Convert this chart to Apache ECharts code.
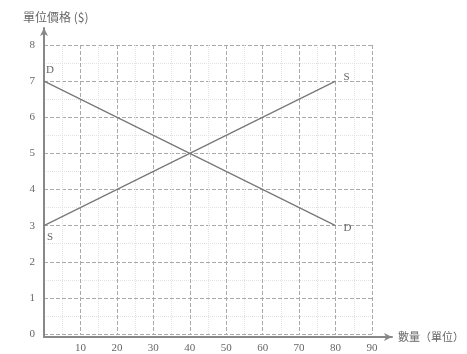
<!DOCTYPE html>
<html><head><meta charset="utf-8">
<script src="https://cdn.jsdelivr.net/npm/echarts@6/dist/echarts.min.js"></script>
<style>html,body{margin:0;padding:0;background:#fff}#c{width:467px;height:354px}</style>
</head><body><div id="c"></div>
<script>
const xTicks = [0,10,20,30,40,50,60,70,80,90];
const yTicks = [0,1,2,3,4,5,6,7,8];
const demandX = [0, 80];
const demandY = [7, 3];
const supplyX = [0, 80];
const supplyY = [3, 7];
const demandLabels = ['D', 'D'];
const supplyLabels = ['S', 'S'];
const yTitle = '單位價格 ($)';
const xTitle = '數量（單位）';

const serif = '"Liberation Serif","DejaVu Serif",serif';
const cjk = '"Noto Sans CJK TC","Noto Sans CJK SC",sans-serif';
const txt = '#666';

const chart = echarts.init(document.getElementById('c'));
chart.setOption({
  animation: false,
  backgroundColor: '#fff',
  title: {text: yTitle, left: 18, top: 6,
    textStyle: {fontFamily: cjk, fontSize: 12, fontWeight: 'normal', color: txt}},
  grid: [
    {left: 44, top: 45, right: 95, bottom: 17},
    {left: 44, top: 28, right: 74, bottom: 17}
  ],
  xAxis: [
    {gridIndex: 0, type: 'value', min: 0, max: 90, interval: 10,
     axisLine: {show: false}, axisTick: {show: false},
     axisLabel: {margin: 9, fontFamily: serif, fontSize: 11, color: txt,
       formatter: v => v === 0 ? '' : String(v)},
     splitLine: {show: true, lineStyle: {color: '#aaa', type: [4, 2], width: 1}},
     minorTick: {show: false, splitNumber: 2},
     minorSplitLine: {show: true, lineStyle: {color: '#e2e2e2', type: 'dotted'}}},
    {gridIndex: 1, type: 'value', min: 0, max: 96,
     axisLine: {show: true, symbol: ['none', 'arrow'], symbolSize: [6, 8],
       lineStyle: {color: '#888', width: 2}},
     axisTick: {show: false}, axisLabel: {show: false}, splitLine: {show: false},
     name: xTitle, nameLocation: 'end', nameGap: 6,
     nameTextStyle: {fontFamily: cjk, fontSize: 11, color: txt}}
  ],
  yAxis: [
    {gridIndex: 0, type: 'value', min: 0, max: 8, interval: 1,
     axisLine: {show: false}, axisTick: {show: false},
     axisLabel: {margin: 9, fontFamily: serif, fontSize: 11, color: txt},
     splitLine: {show: true, lineStyle: {color: '#aaa', type: [4, 2], width: 1}},
     minorTick: {show: false, splitNumber: 2},
     minorSplitLine: {show: true, lineStyle: {color: '#e2e2e2', type: 'dotted'}}},
    {gridIndex: 1, type: 'value', min: 0, max: 8.5,
     axisLine: {show: true, symbol: ['none', 'arrow'], symbolSize: [6, 8],
       lineStyle: {color: '#888', width: 2}},
     axisTick: {show: false}, axisLabel: {show: false}, splitLine: {show: false}}
  ],
  series: [
    {type: 'line', xAxisIndex: 0, yAxisIndex: 0,
     data: demandX.map((x, i) => ({value: [x, demandY[i]],
       label: {show: true, formatter: demandLabels[i],
         position: i === 0 ? 'top' : 'right',
         offset: i === 0 ? [6, 0] : [2, 2]}})),
     showSymbol: true, symbol: 'circle', symbolSize: 2,
     itemStyle: {color: 'rgba(0,0,0,0)'},
     lineStyle: {color: '#777', width: 1.2},
     label: {fontFamily: serif, fontSize: 11, color: txt}},
    {type: 'line', xAxisIndex: 0, yAxisIndex: 0,
     data: supplyX.map((x, i) => ({value: [x, supplyY[i]],
       label: {show: true, formatter: supplyLabels[i],
         position: i === 0 ? 'bottom' : 'right',
         offset: i === 0 ? [6, 0] : [2, -4]}})),
     showSymbol: true, symbol: 'circle', symbolSize: 2,
     itemStyle: {color: 'rgba(0,0,0,0)'},
     lineStyle: {color: '#777', width: 1.2},
     label: {fontFamily: serif, fontSize: 11, color: txt}}
  ]
});
</script></body></html>
